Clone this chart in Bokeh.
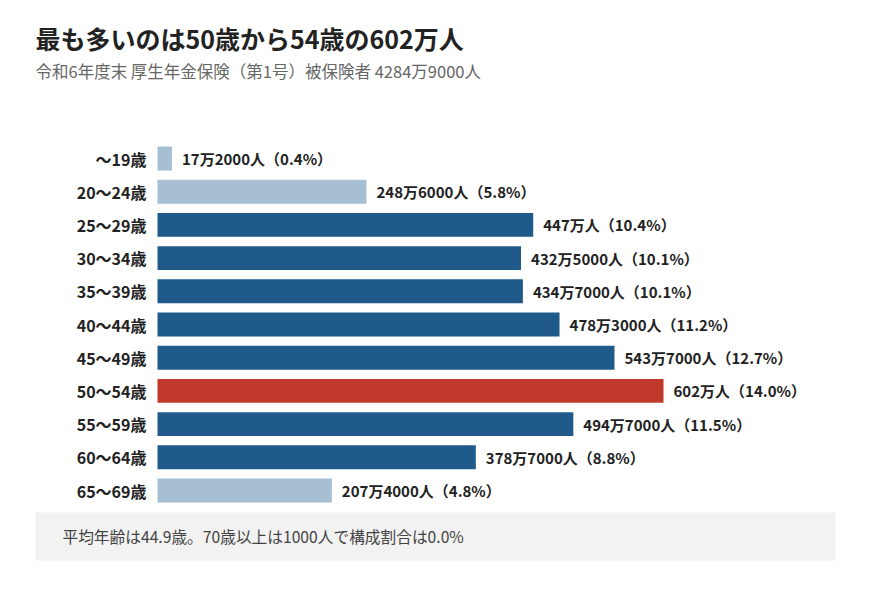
from bokeh.plotting import figure
from bokeh.models import ColumnDataSource, Range1d, Label, BoxAnnotation
from bokeh.core.properties import value
from bokeh.embed import file_html
from bokeh.resources import INLINE

# ---- data ----
age_groups = ["～19歳", "20～24歳", "25～29歳", "30～34歳", "35～39歳", "40～44歳",
              "45～49歳", "50～54歳", "55～59歳", "60～64歳", "65～69歳"]
people_man = [17.2, 248.6, 447.0, 432.5, 434.7, 478.3, 543.7, 602.0, 494.7, 378.7, 207.4]
share_pct = [0.4, 5.8, 10.4, 10.1, 10.1, 11.2, 12.7, 14.0, 11.5, 8.8, 4.8]
people_text = ["17万2000人", "248万6000人", "447万人", "432万5000人", "434万7000人",
               "478万3000人", "543万7000人", "602万人", "494万7000人", "378万7000人", "207万4000人"]
highlight_group = "50～54歳"
light_groups = ["～19歳", "20～24歳", "65～69歳"]

title_text = "最も多いのは50歳から54歳の602万人"
subtitle_text = "令和6年度末 厚生年金保険（第1号）被保険者 4284万9000人"
note_text = "平均年齢は44.9歳。70歳以上は1000人で構成割合は0.0%"

# ---- styling ----
FONT = "Noto Sans CJK JP"
C_DARK = "#1f5a8a"
C_LIGHT = "#a7bfd2"
C_RED = "#c0392b"

W, H = 854, 573
x0_px, xmax_px = 157.0, 663.0
k = (xmax_px - x0_px) / max(people_man)
row0_px, step_px = 158.0, 33.2

colors = [C_RED if g == highlight_group else (C_LIGHT if g in light_groups else C_DARK)
          for g in age_groups]
rows = list(range(len(age_groups)))
labels = [f"{t}（{p:.1f}%）" for t, p in zip(people_text, share_pct)]

src = ColumnDataSource(dict(row=rows, val=people_man, zero=[0] * len(rows),
                            color=colors, cat=age_groups, lab=labels))

p = figure(width=W, height=H, output_backend="svg", toolbar_location=None,
           x_axis_location=None, y_axis_location=None, min_border=0,
           x_range=Range1d(-x0_px / k, (W - x0_px) / k),
           y_range=Range1d((H - row0_px) / step_px, -row0_px / step_px))
p.outline_line_color = None
p.background_fill_color = "white"
p.border_fill_color = "white"
p.xgrid.visible = False
p.ygrid.visible = False

p.hbar(y="row", left="zero", right="val", height=0.72, fill_color="color",
       line_color=None, source=src)

p.text(x="zero", y="row", text="cat", x_offset=-11, text_align="right",
       text_baseline="middle", text_font=value(FONT), text_font_size="16px",
       text_font_style="bold", text_color="#222222", source=src)
p.text(x="val", y="row", text="lab", x_offset=10, text_align="left",
       text_baseline="middle", text_font=value(FONT), text_font_size="15px",
       text_font_style="bold", text_color="#222222", source=src)

p.add_layout(Label(x=35, y=H - 37, x_units="screen", y_units="screen", text=title_text,
                   text_font=FONT, text_font_size="25px", text_font_style="bold",
                   text_baseline="middle", text_color="#222222"))
p.add_layout(Label(x=35, y=H - 70, x_units="screen", y_units="screen", text=subtitle_text,
                   text_font=FONT, text_font_size="16.5px",
                   text_baseline="middle", text_color="#666666"))

p.add_layout(BoxAnnotation(left=35, right=835, bottom=H - 560, top=H - 512,
                           left_units="screen", right_units="screen",
                           bottom_units="screen", top_units="screen",
                           fill_color="#f2f2f2", fill_alpha=1.0, line_color=None,
                           level="underlay"))
p.add_layout(Label(x=62, y=H - 536, x_units="screen", y_units="screen", text=note_text,
                   text_font=FONT, text_font_size="15.7px",
                   text_baseline="middle", text_color="#444444"))

open("out.html", "w").write(file_html(p, INLINE))
